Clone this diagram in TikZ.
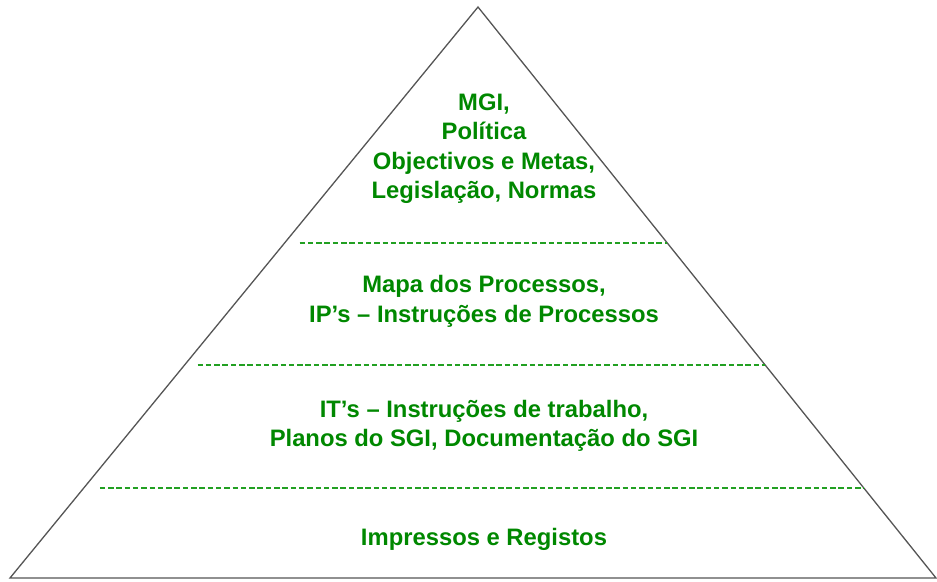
\documentclass[tikz,border=0pt]{standalone}
\usepackage{fontspec}
\setsansfont{Liberation Sans}
\usepackage{xcolor}
\usepackage{tikz}
\usetikzlibrary{calc}
\definecolor{sgigreen}{HTML}{008800}
\definecolor{sgidash}{HTML}{22A022}
\definecolor{sgiedge}{HTML}{555555}

\begin{document}
\begin{tikzpicture}[
  x=1pt,y=-1pt,
  font=\sffamily\bfseries\fontsize{23.8}{29.5}\selectfont,
  level/.style={text=sgigreen,align=center,anchor=north,inner sep=0pt},
  edge/.style={draw=sgiedge,line width=1.3pt,line join=miter},
  divider/.style={draw=sgidash,line width=1.5pt,dash pattern=on 5.5pt off 2.8pt}
]
\useasboundingbox (0,0) rectangle (937,581);
\coordinate (top) at (478,7);
\coordinate (left) at (10,578);
\coordinate (right) at (936,578);

% pyramid outline
\draw[edge] (top) -- (right) -- (left) -- cycle;

% level dividers
\draw[divider] ($(top)!0.4133!(left)+(15,0)$) -- ($(top)!0.4133!(right)$);
\draw[divider] ($(top)!0.627!(left)+(13,0)$) -- ($(top)!0.627!(right)$);
\draw[divider] ($(top)!0.8424!(left)+(16,0)$) -- ($(top)!0.8424!(right)$);

% level texts
\node[level] (mgi) at (484,93.4) {MGI,\\Política\\Objectivos e Metas,\\Legislação, Normas};
\node[level] (proc) at (484,275.4) {Mapa dos Processos,\\IP’s – Instruções de Processos};
\node[level] (trab) at (484,399.9) {IT’s – Instruções de trabalho,\\Planos do SGI, Documentação do SGI};
\node[level] (reg) at (484,527.9) {Impressos e Registos};
\end{tikzpicture}
\end{document}
